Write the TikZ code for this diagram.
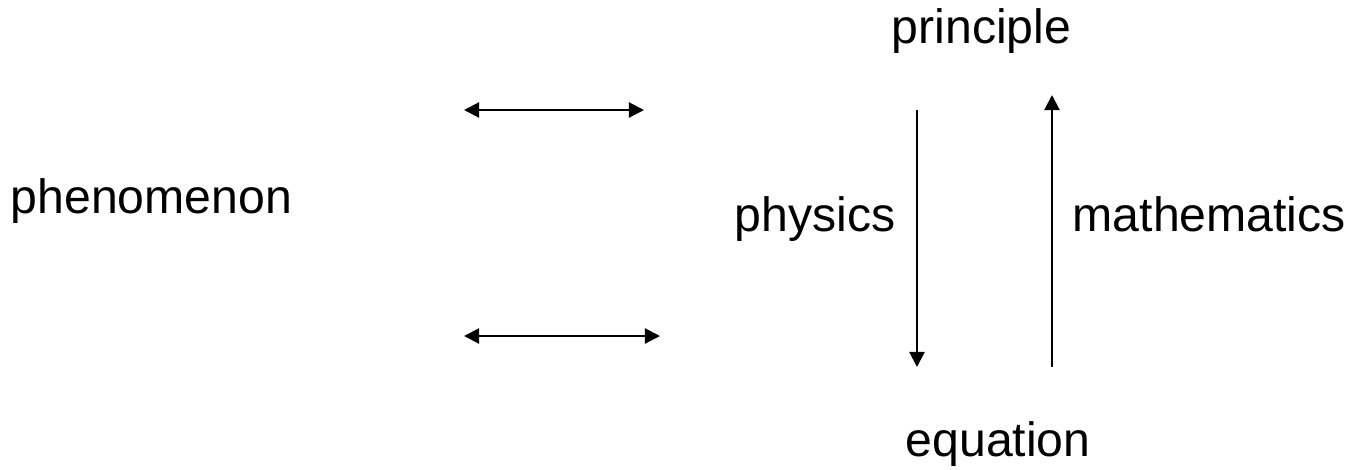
\documentclass[tikz,border=0pt]{standalone}
\usepackage{fontspec}
\setmainfont{Liberation Sans}
\usetikzlibrary{arrows.meta}
\begin{document}
\begin{tikzpicture}[x=0.01cm,y=-0.01cm,
  lbl/.style={font=\fontsize{13.7}{16}\selectfont, inner sep=0pt, anchor=base west},
  conn/.style={line width=0.6pt, {Triangle[length=4.3pt,width=4.3pt]}-{Triangle[length=4.3pt,width=4.3pt]}},
  oneway/.style={line width=0.6pt, -{Triangle[length=4.3pt,width=4.3pt]}}]
\useasboundingbox (0,0) rectangle (1363,469);
\node[lbl] (phen) at (10,213) {phenomenon};
\node[lbl] (prin) at (891,43) {principle};
\node[lbl] (equ) at (905,456) {equation};
\node[lbl] (phys) at (734,231) {physics};
\node[lbl] (math) at (1072,231) {mathematics};
\coordinate (t1) at (464,110);
\coordinate (t2) at (644,110);
\coordinate (b1) at (464,336);
\coordinate (b2) at (660,336);
\coordinate (d1) at (917,110);
\coordinate (d2) at (917,367);
\coordinate (u1) at (1052,367);
\coordinate (u2) at (1052,95);
\draw[conn] (t1) -- (t2);
\draw[conn] (b1) -- (b2);
\draw[oneway] (d1) -- (d2);
\draw[oneway] (u1) -- (u2);
\end{tikzpicture}
\end{document}
